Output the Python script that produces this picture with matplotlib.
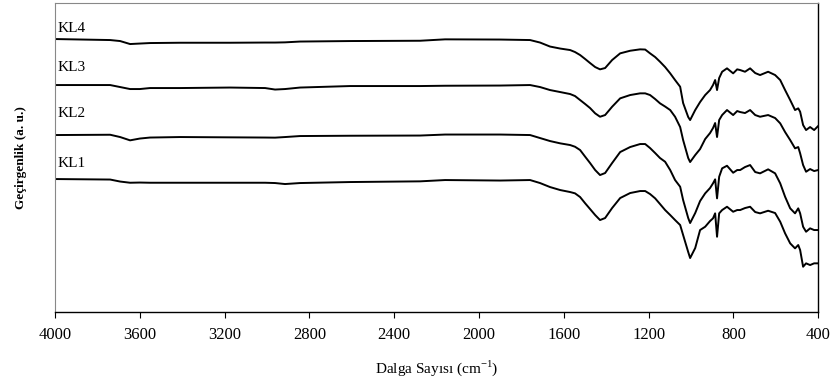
import matplotlib
matplotlib.use("Agg")
import matplotlib.pyplot as plt

plt.rcParams['font.family'] = ['Liberation Serif', 'DejaVu Serif']

# wavenumbers (cm-1) shared by all four spectra
wavenumber = [4000, 3740, 3693, 3646, 3600, 3552, 3410, 3174, 3009, 2962,
              2915, 2844, 2608, 2278, 2160, 1900, 1759, 1712, 1665, 1617,
              1570, 1547, 1523, 1499, 1476, 1452, 1429, 1405, 1372, 1334,
              1287, 1240, 1216, 1193, 1169, 1146, 1122, 1098, 1075, 1051,
              1037, 1013, 1004, 980, 957, 933, 910, 896, 886, 877,
              867, 853, 830, 801, 782, 768, 745, 721, 697, 674,
              636, 603, 579, 556, 532, 509, 494, 485, 471, 457,
              438, 419, 400]

# transmittance, arbitrary units (stacked)
kl4 = [273, 272, 271, 268, 268.5, 269, 269.3, 269.3, 269.5, 269.5,
       269.7, 270.5, 271, 271.3, 272.7, 272.5, 272, 269.5, 265.5, 263.5,
       262, 260, 257, 253, 249, 245, 242.7, 244, 252, 258.7,
       261.3, 262.7, 262.5, 258.7, 255, 250.3, 245, 238.7, 232, 225.3,
       209, 195, 192, 202, 210, 217, 222, 227, 232, 222,
       234, 240.3, 243.7, 238.7, 242.7, 242, 240.3, 243.7, 239, 237,
       240.3, 237, 232, 222, 212, 202, 203.7, 200.3, 187, 182,
       185, 182, 186]
kl3 = [227, 227, 225, 223, 223, 224, 224, 224.5, 224, 222.5,
       223, 224.5, 226, 226, 226.3, 226.5, 227, 225, 222, 220,
       218, 216, 212, 208, 204, 198.7, 195.3, 197, 205.3, 213.7,
       217, 218.7, 218.7, 217, 213, 208.7, 205.5, 202, 195.3, 185,
       172, 154, 150, 157, 163, 173, 179, 184, 189, 175,
       192, 197, 202, 197, 201, 200, 199, 202, 197, 195.3,
       197, 194, 188.7, 180, 172, 163.7, 165, 158.7, 147, 140.3,
       143, 141, 142]
kl2 = [177, 177.3, 175, 171.7, 173.5, 174.5, 175, 174.7, 174.5, 174.4,
       175, 176, 176.3, 176.5, 177.5, 177.5, 177, 174, 171, 168.7,
       167, 165.3, 162, 155.3, 149, 142, 137, 139, 149, 160,
       165, 168, 168, 164, 159, 154, 150.3, 142, 132, 125.3,
       112, 94, 89, 99, 111, 118.7, 124, 128.7, 132.7, 113.7,
       135.3, 143.7, 146.3, 139.3, 142, 142, 145, 147, 140, 138.7,
       142.7, 138.7, 128.7, 115.3, 103.7, 98.7, 103.7, 98.7, 85.3, 80.3,
       83.7, 82, 82]
kl1 = [133, 132.5, 130.5, 129.3, 129.5, 129.3, 129.3, 129.3, 129.3, 129,
       128, 129, 130, 130.7, 132, 131.5, 132, 129, 125, 122,
       120, 118.7, 115, 108.7, 103, 97, 92, 94, 104, 114,
       119, 121, 121, 118, 113.7, 108, 102, 97, 92, 87,
       77, 60, 54, 64, 82, 85.3, 91, 93.7, 98.7, 75.3,
       98.7, 102, 105.3, 100.3, 102, 102, 104, 105.3, 100, 98.7,
       101.3, 99, 90.3, 78.7, 68.7, 63.7, 67, 62, 45.3, 48.7,
       47, 48.7, 48.7]

names = ['KL4', 'KL3', 'KL2', 'KL1']
label_y = [284, 245, 199, 149]

fig = plt.figure(figsize=(8.34, 3.81), dpi=100)
ax = fig.add_axes([0.066, 0.181, 0.915, 0.811])

for spec, name, ly in zip([kl4, kl3, kl2, kl1], names, label_y):
    ax.plot(wavenumber, spec, color='black', linewidth=1.4)
    ax.text(3987, ly, name, fontsize=11, va='center', ha='left')

ax.set_xlim(4000, 400)
ax.set_ylim(0, 309)
ax.set_xticks([4000, 3600, 3200, 2800, 2400, 2000, 1600, 1200, 800, 400])
ax.set_yticks([])
ax.tick_params(axis='x', direction='out', length=4, width=0.8, labelsize=12, pad=7)

ax.spines['top'].set_color('#888888')
ax.spines['left'].set_color('#888888')
ax.spines['top'].set_linewidth(0.8)
ax.spines['left'].set_linewidth(0.8)
ax.spines['bottom'].set_linewidth(1.0)
ax.spines['right'].set_linewidth(1.0)

ax.set_xlabel('Dalga Sayısı (cm$^{\\mathregular{-1}}$)', fontsize=11, labelpad=11)
ax.set_ylabel('Geçirgenlik (a. u.)', fontsize=9.5, fontweight='bold', labelpad=20)

plt.savefig('out.png', dpi=100)
